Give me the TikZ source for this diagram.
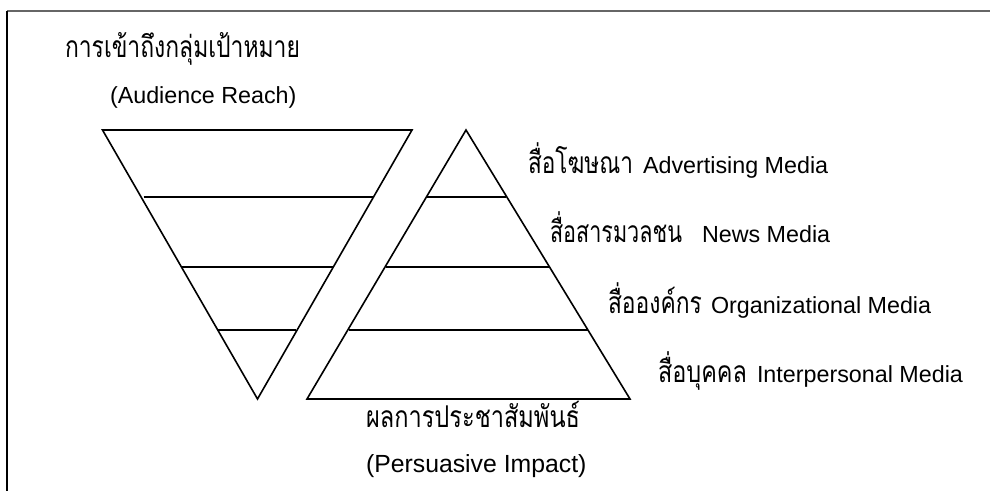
\documentclass[tikz,border=0pt]{standalone}
\usepackage{fontspec}
\usepackage{graphicx}
\setmainfont{Liberation Sans}
\newfontfamily\thai[Script=Thai]{Loma}
\newcommand{\thtext}[2]{{\thai\fontsize{30pt}{34pt}\selectfont\resizebox{#1pt}{\height}{#2}}}
\begin{document}
\begin{tikzpicture}[x=1pt,y=-1pt,
  shape line/.style={line width=1.6pt,line join=miter,black},
  txt/.style={inner sep=0pt,outer sep=0pt,font=\fontsize{23.3pt}{28pt}\selectfont}]
\useasboundingbox (0,0) rectangle (990,491);
% frame
\coordinate (fa) at (7,11);
\coordinate (fb) at (990,11);
\coordinate (fc) at (7,491);
\draw[line width=1.8pt,black!60] (fa) -- (fb);
\draw[line width=1.2pt,black] (fa) -- (fc);
% inverted triangle
\coordinate (itl) at (102.5,130);
\coordinate (itr) at (412,130);
\coordinate (ib) at (257.5,399);
\draw[shape line] (itl) -- (itr) -- (ib) -- cycle;
\draw[shape line] (143.5,197) -- (373,197);
\draw[shape line] (181,267) -- (334,267);
\draw[shape line] (217,330) -- (296,330);
% upright triangle
\coordinate (ua) at (466,130);
\coordinate (ul) at (307,399);
\coordinate (ur) at (630,399);
\draw[shape line] (ua) -- (ur) -- (ul) -- cycle;
\draw[shape line] (427,197) -- (506,197);
\draw[shape line] (386,267) -- (549,267);
\draw[shape line] (349,330) -- (588,330);
% texts
\node[txt,anchor=base west] (t1) at (65,57) {\thtext{235}{การเข้าถึงกลุ่มเป้าหมาย}};
\node[txt,anchor=base west] (t2) at (110,103.5) {(Audience Reach)};
\node[txt,anchor=base west] (m1) at (528,173) {\makebox[115pt][l]{\thtext{105}{สื่อโฆษณา}}Advertising Media};
\node[txt,anchor=base west] (m2) at (550,242) {\makebox[152pt][l]{\thtext{132}{สื่อสารมวลชน}}News Media};
\node[txt,anchor=base west] (m3) at (608,313) {\makebox[103pt][l]{\thtext{94}{สื่อองค์กร}}Organizational Media};
\node[txt,anchor=base west] (m4) at (658,382) {\makebox[99pt][l]{\thtext{89}{สื่อบุคคล}}Interpersonal Media};
\node[txt,anchor=base west] (b1) at (366,427) {\thtext{214}{ผลการประชาสัมพันธ์}};
\node[txt,anchor=base west,font=\fontsize{24.8pt}{28pt}\selectfont] (b2) at (366,472) {(Persuasive Impact)};
\end{tikzpicture}
\end{document}
